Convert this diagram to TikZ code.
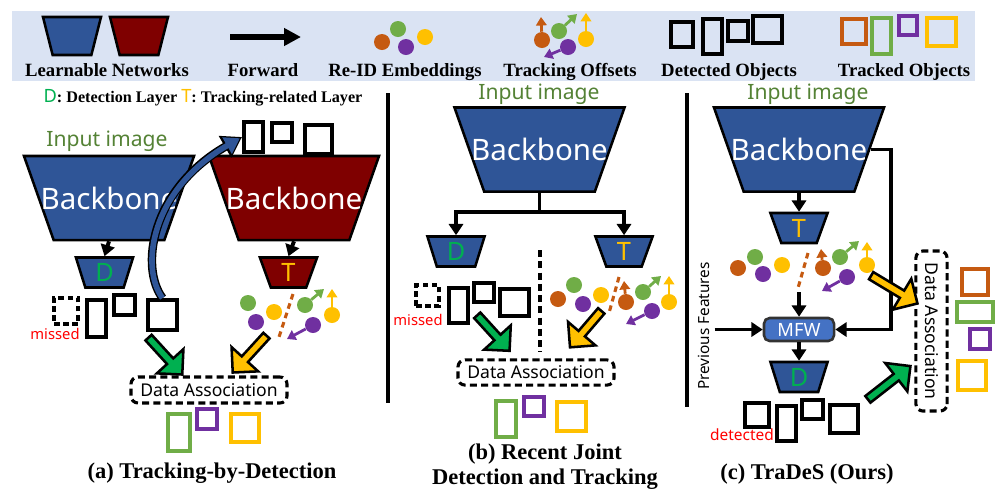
\documentclass[tikz,border=0pt]{standalone}
\usepackage{fontspec}
\setmainfont{Liberation Serif}
\newfontfamily\sfnt{Noto Sans}
\usetikzlibrary{shapes.geometric,shapes.arrows,arrows.meta}

\definecolor{netblue}{HTML}{2F5597}
\definecolor{netred}{HTML}{7F0000}
\definecolor{legendbg}{HTML}{DAE3F3}
\definecolor{embgreen}{HTML}{70AD47}
\definecolor{embor}{HTML}{C55A11}
\definecolor{embpurple}{HTML}{7030A0}
\definecolor{embyellow}{HTML}{FFC000}
\definecolor{detgreen}{HTML}{00B050}
\definecolor{inputgreen}{HTML}{548235}
\definecolor{mfwblue}{HTML}{4472C4}

\newcommand{\setfs}[1]{\fontsize{#1}{#1}\selectfont}

\tikzset{
  net/.style={trapezium, trapezium stretches=true, shape border rotate=180,
    draw=black, line width=1.8pt, inner sep=1pt},
  backbone/.style={net, trapezium angle=75, minimum width=4.25cm, minimum height=2.1cm,
    label={[text=white, font=\sfnt\setfs{21}]center:Backbone}},
  head/.style={net, trapezium angle=76, minimum width=1.43cm, minimum height=0.75cm,
    font=\sfnt\setfs{18}},
  objbox/.style 2 args={draw=black, line width=2.8pt, inner sep=0pt,
    minimum width=#1*0.025cm, minimum height=#2*0.025cm},
  dot/.style={circle, fill=#1, inner sep=0pt, minimum size=0.4cm},
  offset/.style={draw=#1, line width=2pt, -{Triangle[length=6pt,width=7.5pt]}},
  fwd/.style={draw=black, line width=2.8pt, -{Triangle[length=8pt,width=10pt]}},
  assoc/.style={draw=black, line width=2.2pt, dash pattern=on 5pt off 3pt,
    rounded corners=5pt, inner sep=0pt, font=\sfnt\setfs{12.5}},
  blockarrow/.style={single arrow, draw=black, fill=#1, line width=1.8pt, inner sep=1pt,
    minimum width=0.9cm, single arrow head extend=0.22cm},
  legendlabel/.style={font=\bfseries\setfs{13.3}, anchor=base},
  caption/.style={font=\bfseries\setfs{16}},
  inputlabel/.style={text=inputgreen, font=\sfnt\setfs{15}},
  redlabel/.style={text=red, font=\sfnt\setfs{#1}},
  trail/.style={draw=embor, line width=2.2pt, dash pattern=on 4pt off 3pt},
  mfwbox/.style={draw=black!80, fill=mfwblue, line width=1.8pt, rounded corners=4pt,
    minimum width=1.75cm, minimum height=0.575cm, inner sep=0pt, text=white,
    font=\sfnt\setfs{13}},
}

\begin{document}
\begin{tikzpicture}[x=0.025cm, y=-0.025cm]
  \useasboundingbox (0,0) rectangle (1004,495);
  % legend
  \fill[legendbg] (12,11) rectangle (975,81);
  \node[net, trapezium angle=76, minimum width=1.45cm, minimum height=0.95cm, fill=netblue] (lgblue) at (72,36) {};
  \node[net, trapezium angle=76, minimum width=1.45cm, minimum height=0.95cm, fill=netred] (lgred) at (139,36) {};
  \node[legendlabel] (lglearn) at (107,76) {Learnable Networks};
  \coordinate (fwdstart) at (230,37);
  \coordinate (fwdend) at (301,37);
  \draw[line width=4.3pt, -{Triangle[length=12pt,width=12pt]}] (fwdstart) -- (fwdend);
  \node[legendlabel] (lgfwd) at (263,76) {Forward};
  \foreach \n/\c/\px/\py in {lea/embor/382/42, leb/embgreen/398/29, lec/embpurple/406/47, led/embyellow/425/37}
    \node[dot=\c] (\n) at (\px,\py) {};
  \node[legendlabel] (lgemb) at (405,76) {Re-ID Embeddings};
  \foreach \n/\c/\px/\py/\qx/\qy in {loa/embor/542/40/541/17, lob/embgreen/559/31/577/14,
      loc/embyellow/586/39/586/13, lod/embpurple/568/47/544/57} {
    \node[dot=\c] (\n) at (\px,\py) {};
    \coordinate (\n-tip) at (\qx,\qy);
    \draw[offset=\c] (\n) -- (\n-tip);
  }
  \node[legendlabel] (lgoff) at (570,76) {Tracking Offsets};
  \node[objbox={22}{25}] (lgd1) at (682,34.5) {};
  \node[objbox={19}{35}] (lgd2) at (712.5,36.5) {};
  \node[objbox={20}{20}] (lgd3) at (738,31) {};
  \node[objbox={29}{27}] (lgd4) at (767.5,29.5) {};
  \node[legendlabel] (lgdet) at (729,76) {Detected Objects};
  \node[objbox={24}{25}, draw=embor] (lgt1) at (854,31.5) {};
  \node[objbox={19}{36}, draw=embgreen] (lgt2) at (881.5,36) {};
  \node[objbox={18}{19}, draw=embpurple] (lgt3) at (908,25.5) {};
  \node[objbox={29}{28}, draw=embyellow] (lgt4) at (941.5,32) {};
  \node[legendlabel] (lgtrk) at (904,76) {Tracked Objects};
  \node[font=\bfseries\setfs{11.5}] (keyline) at (203,98)
    {{\sfnt\mdseries\setfs{13}\color{detgreen}D}: Detection Layer {\sfnt\mdseries\setfs{13}\color{embyellow}T}: Tracking-related Layer};

  % separators
  \draw[line width=2.2pt] (388,93) -- (388,403);
  \draw[line width=2.2pt] (687,93) -- (687,407);

  % (a) tracking-by-detection
  \node[inputlabel] (inpa) at (107,141) {Input image};
  \node[backbone, fill=netblue] (bba) at (109,198) {};
  \node[backbone, fill=netred] (bbr) at (294,198) {};
  \node[head, fill=netblue, text=detgreen] (da) at (104.5,272.5) {D};
  \node[head, fill=netred, text=embyellow] (ta) at (288.5,272.5) {T};
  \draw[fwd] (bba.270) -- (da.90);
  \draw[fwd] (bbr.270) -- (ta.90);
  \node[objbox={19}{30}] (pra1) at (253.5,137) {};
  \node[objbox={20}{19}] (pra2) at (282,132.5) {};
  \node[objbox={27}{29}] (pra3) at (318.5,139.5) {};
  \node[objbox={24}{26}, dash pattern=on 4pt off 2.5pt] (dta1) at (66,311) {};
  \node[objbox={19}{37}] (dta2) at (96.5,318.5) {};
  \node[objbox={21}{20}] (dta3) at (124.5,305) {};
  \node[objbox={29}{30}] (dta4) at (162.5,315) {};
  \node[redlabel=10.5] (missa) at (55,334) {missed};
  \draw[line width=6pt, -{Triangle[length=14pt,width=17pt]}]
    (dta4.north) .. controls (140,268) and (150,190) .. (pra1.west);
  \draw[netblue, line width=4pt, shorten >=1.8pt, -{Triangle[length=10.5pt,width=13pt]}]
    (dta4.north) .. controls (140,268) and (150,190) .. (pra1.west);
  \foreach \n/\c/\px/\py in {ea1/embgreen/248/303, ea2/embyellow/274/312, ea3/embpurple/256/322}
    \node[dot=\c] (\n) at (\px,\py) {};
  \foreach \n/\c/\px/\py/\qx/\qy in {oa1/embgreen/305/305/324/289, oa2/embyellow/332/315/332/289,
      oa3/embpurple/313/325/287/339} {
    \node[dot=\c] (\n) at (\px,\py) {};
    \coordinate (\n-tip) at (\qx,\qy);
    \draw[offset=\c] (\n) -- (\n-tip);
  }
  \coordinate (traila1) at (293,294);
  \coordinate (traila2) at (279,337);
  \draw[trail] (traila1) -- (traila2);
  \node[blockarrow=detgreen, minimum height=1.25cm, rotate=-47.6] (ga) at (164,354.5) {};
  \node[blockarrow=embyellow, minimum height=1.25cm, rotate=-132.4] (ya) at (251,352.5) {};
  \node[assoc, minimum width=3.9cm, minimum height=0.65cm] (daa) at (209,390) {Data Association};
  \node[objbox={22}{37}, draw=embgreen] (tra1) at (179,432.5) {};
  \node[objbox={20}{20}, draw=embpurple] (tra2) at (207,419) {};
  \node[objbox={28}{28}, draw=embyellow] (tra3) at (245,428) {};
  \node[caption, anchor=base] (capa) at (212,478) {(a) Tracking-by-Detection};

  % (b) joint detection and tracking
  \node[inputlabel] (inpb) at (539,94) {Input image};
  \node[backbone, fill=netblue] (bbb) at (539.5,149.5) {};
  \node[head, fill=netblue, text=detgreen] (db) at (456,251.5) {D};
  \node[head, fill=netblue, text=embyellow] (tb) at (624,251.5) {T};
  \coordinate (splitb) at (539.5,212);
  \draw[line width=2.8pt] (bbb.270) -- (splitb);
  \draw[fwd] (splitb) -| (db.90);
  \draw[fwd] (splitb) -| (tb.90);
  \coordinate (divb1) at (540,250);
  \coordinate (divb2) at (540,352);
  \draw[line width=2.5pt, dash pattern=on 5pt off 3pt] (divb1) -- (divb2);
  \node[objbox={23}{21}, dash pattern=on 4pt off 2.5pt] (dtb1) at (427.5,295.5) {};
  \node[objbox={19}{35}] (dtb2) at (458.5,305.5) {};
  \node[objbox={20}{19}] (dtb3) at (484,292.5) {};
  \node[objbox={29}{27}] (dtb4) at (514.5,302.5) {};
  \node[redlabel=10.5] (missb) at (418,320) {missed};
  \foreach \n/\c/\px/\py in {eb1/embor/558/299, eb2/embgreen/574/285, eb3/embpurple/583/304, eb4/embyellow/601/295}
    \node[dot=\c] (\n) at (\px,\py) {};
  \coordinate (trailb1) at (619,277);
  \coordinate (trailb2) at (609,313);
  \draw[trail] (trailb1) -- (trailb2);
  \foreach \n/\c/\px/\py/\qx/\qy in {ob1/embor/626/302/624/281, ob2/embgreen/643/292/661/276,
      ob3/embyellow/669/302/669/276, ob4/embpurple/652/311/626/324} {
    \node[dot=\c] (\n) at (\px,\py) {};
    \coordinate (\n-tip) at (\qx,\qy);
    \draw[offset=\c] (\n) -- (\n-tip);
  }
  \node[blockarrow=detgreen, minimum height=1.2cm, rotate=-47.7] (gb) at (492,331.5) {};
  \node[blockarrow=embyellow, minimum height=1.2cm, rotate=-130.6] (yb) at (587,327.5) {};
  \node[assoc, minimum width=3.9cm, minimum height=0.63cm] (dab) at (536,372.5) {Data Association};
  \node[objbox={20}{36}, draw=embgreen] (trb1) at (506,419) {};
  \node[objbox={20}{19}, draw=embpurple] (trb2) at (534,406.5) {};
  \node[objbox={29}{29}, draw=embyellow] (trb3) at (571.5,416.5) {};
  \node[caption, align=center] (capb) at (545,467) {(b) Recent Joint\\[2pt]Detection and Tracking};

  % (c) TraDeS
  \node[inputlabel] (inpc) at (808,94) {Input image};
  \node[backbone, fill=netblue] (bbc) at (799,149.5) {};
  \node[head, fill=netblue, text=embyellow] (tc) at (799,228) {T};
  \draw[fwd] (bbc.270) -- (tc.90);
  \foreach \n/\c/\px/\py in {ec1/embor/738/268, ec2/embgreen/755/257, ec3/embpurple/763/274, ec4/embyellow/782/265}
    \node[dot=\c] (\n) at (\px,\py) {};
  \coordinate (trailc1) at (808,253);
  \coordinate (trailc2) at (798,288);
  \draw[trail] (trailc1) -- (trailc2);
  \foreach \n/\c/\px/\py/\qx/\qy in {oc1/embor/823/268/821/249, oc2/embgreen/840/257/859/241,
      oc3/embyellow/867/265/867/242, oc4/embpurple/847/277/822/291} {
    \node[dot=\c] (\n) at (\px,\py) {};
    \coordinate (\n-tip) at (\qx,\qy);
    \draw[offset=\c] (\n) -- (\n-tip);
  }
  \node[mfwbox] (mfw) at (799,329.5) {MFW};
  \node[head, fill=netblue, text=detgreen] (dc) at (799,377) {D};
  \coordinate (intoc) at (799,292);
  \draw[fwd] (intoc) -- (mfw.north);
  \draw[fwd] (mfw.south) -- (dc.90);
  \node[font=\sfnt\setfs{10.9}, rotate=90] (prevf) at (704,326) {Previous Features};
  \draw[fwd] (prevf.south |- mfw.west) -- (mfw.west);
  \coordinate (skipc) at (891,149.5);
  \draw[fwd] (bbc.0) -- (skipc) |- (mfw.east);
  \node[objbox={24}{24}] (dtc1) at (757,415) {};
  \node[objbox={19}{35}] (dtc2) at (786.5,423.5) {};
  \node[objbox={21}{19}] (dtc3) at (812.5,409.5) {};
  \node[objbox={28}{28}] (dtc4) at (844,419) {};
  \node[redlabel=11] (detc) at (742,435) {detected};
  \node[assoc, rotate=-90, minimum width=4cm, minimum height=0.78cm] (dac) at (931.5,331) {Data Association};
  \node[blockarrow=detgreen, minimum height=1.35cm, rotate=38] (gc) at (887.5,384) {};
  \node[blockarrow=embyellow, minimum height=1.35cm, rotate=-31] (yc) at (892.5,288.5) {};
  \node[objbox={26}{26}, draw=embor] (trc1) at (975,282) {};
  \node[objbox={36}{20}, draw=embgreen] (trc2) at (975,312) {};
  \node[objbox={20}{20}, draw=embpurple] (trc3) at (980,339) {};
  \node[objbox={28}{29}, draw=embyellow] (trc4) at (972,375.5) {};
  \node[caption, anchor=base] (capc) at (807,479) {(c) TraDeS (Ours)};
\end{tikzpicture}
\end{document}
